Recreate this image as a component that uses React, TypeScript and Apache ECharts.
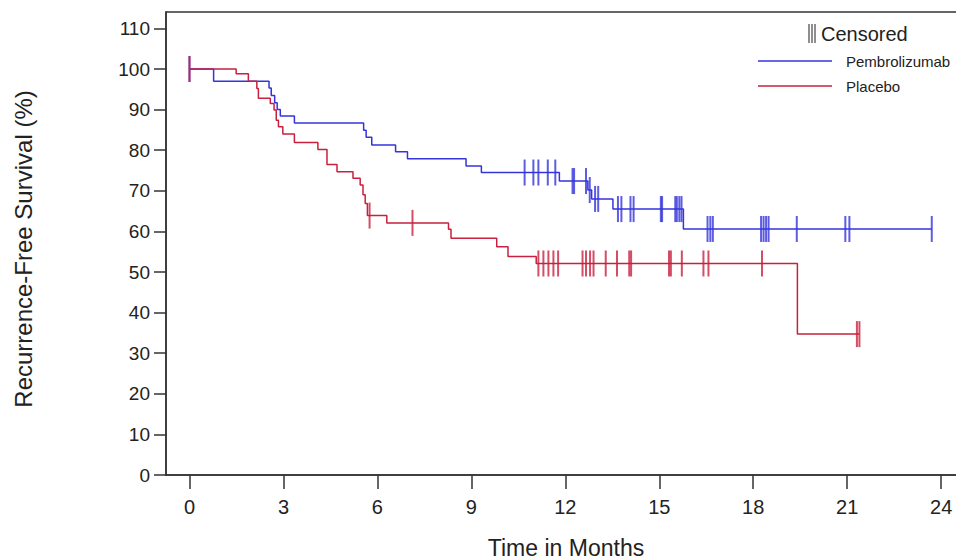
import React, { useEffect, useRef } from "react";
import * as echarts from "echarts";

const xTickValues = [0, 3, 6, 9, 12, 15, 18, 21, 24];
const yTickValues = [0, 10, 20, 30, 40, 50, 60, 70, 80, 90, 100, 110];

const seriesNames = ["Pembrolizumab", "Placebo"];

// Kaplan-Meier steps: time (months) and survival (%) after each step
const pembroTimes = [0, 0.77, 2.54, 2.61, 2.72, 2.8, 2.9, 3.35, 5.56, 5.64, 5.82, 6.58, 6.96, 8.83, 9.32, 11.81, 12.72, 12.84, 13.52, 15.77, 23.7];
const pembroSurv = [100, 97.0, 95.3, 93.5, 91.7, 90.0, 88.4, 86.7, 84.9, 83.2, 81.3, 79.6, 77.9, 76.1, 74.5, 72.4, 70.2, 68.0, 65.5, 60.6, 60.6];

const placeboTimes = [0, 1.49, 1.88, 2.15, 2.2, 2.58, 2.7, 2.77, 2.84, 2.98, 3.35, 4.1, 4.39, 4.71, 5.22, 5.45, 5.54, 5.61, 5.68, 6.3, 8.27, 8.35, 9.81, 10.17, 11.07, 19.41, 21.39];
const placeboSurv = [100, 98.8, 97.0, 95.2, 92.8, 91.5, 89.9, 87.4, 85.8, 84.0, 81.9, 80.2, 76.5, 74.7, 73.1, 71.4, 69.0, 66.9, 63.9, 62.1, 60.5, 58.3, 56.2, 53.8, 52.1, 34.7, 34.7];

// Censoring times (months)
const pembroCensor = [0, 10.7, 10.98, 11.14, 11.44, 11.68, 12.23, 12.28, 12.66, 12.78, 12.95, 13.05, 13.68, 13.79, 14.08, 14.18, 15.05, 15.09, 15.51, 15.56, 15.64, 15.71, 16.54, 16.63, 16.71, 18.25, 18.33, 18.41, 18.49, 19.39, 20.94, 21.07, 23.7];
const placeboCensor = [0, 5.75, 7.12, 11.14, 11.3, 11.46, 11.62, 11.77, 12.55, 12.66, 12.79, 12.9, 13.29, 13.65, 14.04, 14.1, 15.31, 15.37, 15.72, 16.41, 16.57, 18.28, 21.31, 21.39];

const BLUE = "#3434dc";
const RED = "#c8203e";
const FONT = "'Liberation Sans', Arial, sans-serif";

function survAt(times: number[], surv: number[], t: number): number {
  let v = surv[0];
  for (let i = 0; i < times.length; i++) {
    if (times[i] <= t + 1e-9) v = surv[i];
  }
  return v;
}

function App() {
  const ref = useRef<HTMLDivElement>(null);
  useEffect(() => {
    if (!ref.current) return;
    const chart = echarts.init(ref.current, undefined, { renderer: "svg" });
    const pembroLine = pembroTimes.map((t, i) => [t, pembroSurv[i]]);
    const placeboLine = placeboTimes.map((t, i) => [t, placeboSurv[i]]);
    const pembroCens = pembroCensor.map((t) => [t, survAt(pembroTimes, pembroSurv, t)]);
    const placeboCens = placeboCensor.map((t) => [t, survAt(placeboTimes, placeboSurv, t)]);

    chart.setOption({
      animation: false,
      textStyle: { fontFamily: FONT },
      grid: {
        left: 166,
        top: 12,
        right: -10,
        bottom: 84,
        show: true,
        borderColor: "#333",
        borderWidth: 1.5,
        containLabel: false,
        outerBoundsMode: "none",
      },
      legend: {
        data: seriesNames,
        orient: "vertical",
        left: 758,
        top: 53,
        padding: 0,
        itemGap: 9,
        icon: "rect",
        itemWidth: 74,
        itemHeight: 1.5,
        textStyle: {
          fontFamily: FONT,
          fontSize: 15,
          color: "#222",
          lineHeight: 16,
          padding: [0, 0, 0, 9],
        },
      },
      xAxis: {
        type: "value",
        min: -0.75,
        max: 24.793,
        name: "Time in Months",
        nameLocation: "middle",
        nameGap: 61,
        nameTextStyle: { fontFamily: FONT, fontSize: 23, color: "#222" },
        axisLine: { show: true, onZero: false, lineStyle: { color: "#333", width: 1.5 } },
        axisTick: {
          show: true,
          length: 14,
          customValues: xTickValues,
          lineStyle: { color: "#333", width: 1.5 },
        },
        axisLabel: {
          customValues: xTickValues,
          margin: 22,
          fontSize: 20,
          color: "#222",
          fontFamily: FONT,
        },
        splitLine: { show: false },
      },
      yAxis: {
        type: "value",
        min: 0,
        max: 114.04,
        name: "Recurrence-Free Survival (%)",
        nameLocation: "middle",
        nameGap: 131,
        nameRotate: 90,
        nameTextStyle: { fontFamily: FONT, fontSize: 24, color: "#222", padding: [0, 11, 0, 0] },
        axisLine: { show: true, onZero: false, lineStyle: { color: "#333", width: 1.5 } },
        axisTick: {
          show: true,
          length: 12,
          customValues: yTickValues,
          lineStyle: { color: "#333", width: 1.5 },
        },
        axisLabel: {
          customValues: yTickValues,
          margin: 16,
          fontSize: 19,
          color: "#222",
          fontFamily: FONT,
        },
        splitLine: { show: false },
      },
      graphic: [
        { type: "line", shape: { x1: 809, y1: 24, x2: 809, y2: 43 }, style: { stroke: "#444", lineWidth: 1.2 } },
        { type: "line", shape: { x1: 812, y1: 24, x2: 812, y2: 43 }, style: { stroke: "#444", lineWidth: 1.2 } },
        { type: "line", shape: { x1: 815, y1: 24, x2: 815, y2: 43 }, style: { stroke: "#444", lineWidth: 1.2 } },
        {
          type: "text",
          x: 821,
          y: 34,
          style: { text: "Censored", fontFamily: FONT, fontSize: 20, fill: "#222", align: "left", verticalAlign: "middle" },
        },
      ],
      series: [
        {
          name: "Pembrolizumab",
          type: "line",
          step: "end",
          data: pembroLine,
          showSymbol: false,
          symbol: "none",
          color: BLUE,
          lineStyle: { color: BLUE, width: 1.5 },
          z: 3,
        },
        {
          name: "Placebo",
          type: "line",
          step: "end",
          data: placeboLine,
          showSymbol: false,
          symbol: "none",
          color: RED,
          lineStyle: { color: RED, width: 1.5 },
          z: 4,
        },
        {
          name: "Pembrolizumab censored",
          type: "scatter",
          data: pembroCens,
          symbol: "rect",
          symbolSize: [2, 26],
          itemStyle: { color: BLUE },
          z: 5,
        },
        {
          name: "Placebo censored",
          type: "scatter",
          data: placeboCens,
          symbol: "rect",
          symbolSize: [2, 26],
          itemStyle: { color: RED },
          z: 6,
        },
      ],
    });
    return () => chart.dispose();
  }, []);
  return (
    <div
      ref={ref}
      style={{ position: "fixed", left: 0, top: 0, width: 956, height: 559, background: "#fff" }}
    />
  );
}

export default App;
